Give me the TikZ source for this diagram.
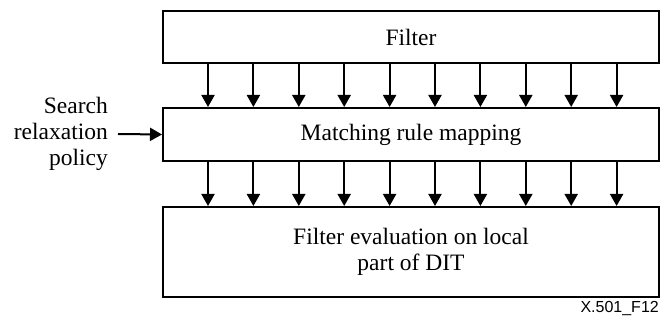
\documentclass[tikz,border=0pt]{standalone}
\usepackage{fontspec}
\setmainfont{Liberation Serif}
\setsansfont{Liberation Sans}
\usepackage{tikz}
\usetikzlibrary{arrows.meta}
\usetikzlibrary{positioning}
\tikzset{>=latex}
\tikzstyle{blk} = [rectangle, draw=black, line width=2pt, minimum width=496pt, inner sep=0pt, align=center, font=\fontsize{23.5}{26}\selectfont]
\tikzstyle{dn} = [-{Triangle[length=12pt, width=13pt]}, line width=2pt, draw = black]

\begin{document}
\begin{tikzpicture}[x=1pt, y=-1pt]
\useasboundingbox (0,0) rectangle (662,320);
\node [blk, minimum height=52pt] (F) at (411, 37) {Filter};
\node [blk, minimum height=53pt] (M) at (411, 134.5) {Matching rule mapping};
\node [blk, minimum height=90pt] (E) at (411, 252) {Filter evaluation on local\\part of DIT};
\node [draw=none, inner sep=0pt, anchor=east, align=right, font=\fontsize{23.5}{26}\selectfont] (SRP) at (108, 134) {Search\\relaxation\\policy};
\draw [dn] ([xshift=10pt]SRP.east) to (M.west);
\foreach \i in {0,...,9} {
  \coordinate (c\i) at (208 + 45.4*\i, 0);
  \draw [dn] (F.south -| c\i) to (M.north -| c\i);
  \draw [dn] (M.south -| c\i) to (E.north -| c\i);
}
\node [draw=none, inner sep=0pt, anchor=north east, font=\sffamily\fontsize{16}{18}\selectfont] (FIG) at (659, 301) {X.501\_F12};
\end{tikzpicture}
\end{document}
